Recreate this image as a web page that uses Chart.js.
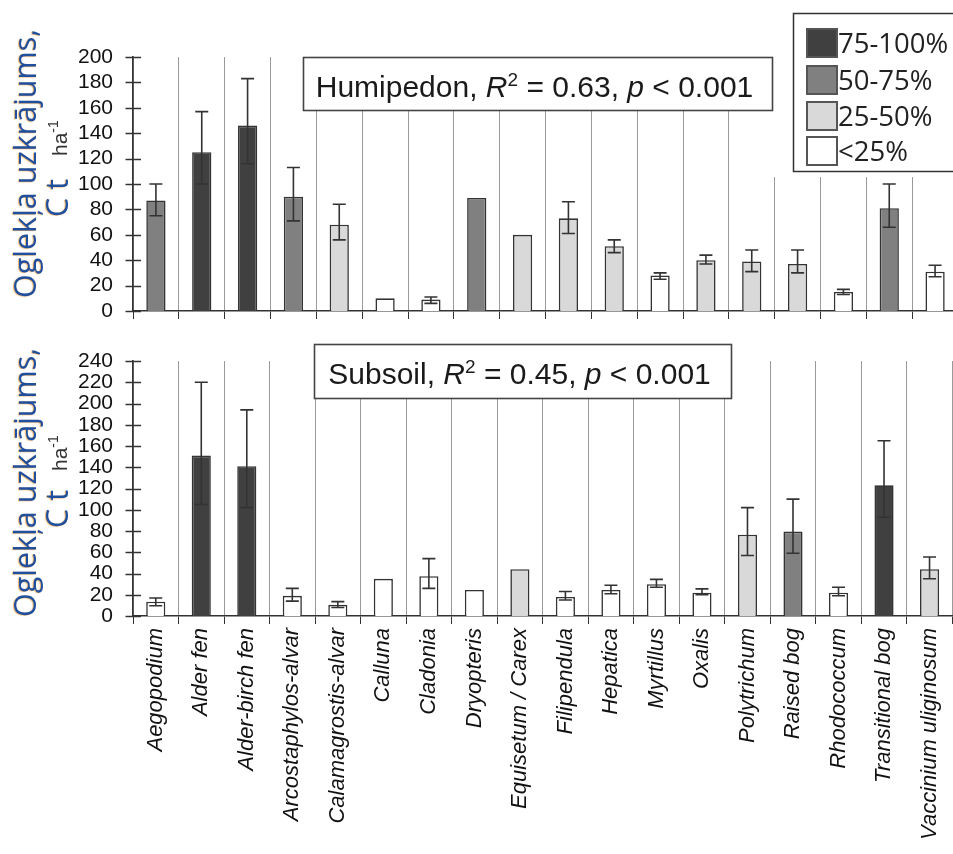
<!DOCTYPE html>
<html>
<head>
<meta charset="utf-8">
<script src="https://cdn.jsdelivr.net/npm/chart.js@4.4.1/dist/chart.umd.min.js"></script>
<style>
  html, body { margin: 0; padding: 0; background: #fff; }
  #wrap { position: relative; width: 953px; height: 854px; overflow: hidden; background: #fff; }
  #top { position: absolute; left: 0; top: 0; }
  #bottom { position: absolute; left: 0; top: 330px; }
</style>
</head>
<body>
<div id="wrap">
  <canvas id="top" width="960" height="330"></canvas>
  <canvas id="bottom" width="960" height="524"></canvas>
</div>
<script>
// Vegetation / forest site types
const categories = [
  'Aegopodium', 'Alder fen', 'Alder-birch fen', 'Arcostaphylos-alvar',
  'Calamagrostis-alvar', 'Calluna', 'Cladonia', 'Dryopteris',
  'Equisetum / Carex', 'Filipendula', 'Hepatica', 'Myrtillus', 'Oxalis',
  'Polytrichum', 'Raised bog', 'Rhodococcum', 'Transitional bog',
  'Vaccinium uliginosum'
];

// Humipedon carbon stock, C t/ha: mean and error-bar limits (null = no bar)
const humipedonMean = [87, 125, 146, 90, 68, 10, 9, 89, 60, 73, 51, 28, 40, 39, 37, 15, 81, 31];
const humipedonLow  = [75, 100, 116, 71, 56, null, 6, null, null, 61, 46, 25, 37, 31, 30, 13, 66, 27];
const humipedonHigh = [100, 157, 183, 113, 84, null, 11, null, null, 86, 56, 30, 44, 48, 48, 17, 100, 36];
// share class of each bar: 0 = <25%, 1 = 25-50%, 2 = 50-75%, 3 = 75-100%
const humipedonClass = [2, 3, 3, 2, 1, 0, 0, 2, 1, 1, 1, 0, 1, 1, 1, 0, 2, 0];

// Subsoil carbon stock, C t/ha
const subsoilMean = [13.5, 151, 141, 19, 10.5, 35, 37.5, 24.5, 44, 18, 24.5, 30, 22, 76.5, 79.5, 22, 123, 44];
const subsoilLow  = [9.7, 105, 102, 14, 8, null, 26, null, null, 15, 21, 27, 20, 57, 59, 19, 93, 35];
const subsoilHigh = [17, 220, 194, 26, 13.5, null, 54, null, null, 23, 29, 34.5, 25.5, 102, 110, 27, 165, 55.5];
const subsoilClass = [0, 3, 3, 0, 0, 0, 0, 0, 1, 0, 0, 0, 0, 1, 2, 0, 3, 1];

const classLabels = ['<25%', '25-50%', '50-75%', '75-100%'];
const yMaxHumipedon = 200;
const yMaxSubsoil = 240;
const yStep = 20;

const panelNames = ['Humipedon', 'Subsoil'];
const panelR2 = ['0.63', '0.45'];
const panelP = '0.001';
const yTitleMain = 'Oglekļa uzkrājums,';
const yTitleUnitA = 'C t';
const yTitleUnitB = 'ha';
const yTitleUnitExp = '-1';

// ---- styling ----
const classFills = ['#ffffff', '#d9d9d9', '#808080', '#404040'];
const ink = '#333333';
const sansFont = '"Liberation Sans", Arial, Helvetica, sans-serif';
const titleFont = '"Open Sans", "Noto Sans", sans-serif';

function richSegments(name, r2) {
  return [
    { t: name + ', ' },
    { t: 'R', italic: true },
    { t: '2', sup: true },
    { t: ' = ' + r2 + ', ' },
    { t: 'p', italic: true },
    { t: ' < ' + panelP }
  ];
}

function drawRich(ctx, segs, cx, baseline, size) {
  const fontFor = s => (s.italic ? 'italic ' : '') + (s.sup ? Math.round(size * 0.64) : size) + 'px ' + sansFont;
  let total = 0;
  segs.forEach(s => { ctx.font = fontFor(s); s.w = ctx.measureText(s.t).width; total += s.w; });
  let x = cx - total / 2;
  ctx.textAlign = 'left';
  ctx.textBaseline = 'alphabetic';
  segs.forEach(s => {
    ctx.font = fontFor(s);
    ctx.fillText(s.t, x, baseline - (s.sup ? size * 0.36 : 0));
    x += s.w;
  });
}

function errorBarPlugin(low, high) {
  return {
    id: 'errorBars',
    afterDatasetsDraw(chart) {
      const meta = chart.getDatasetMeta(0);
      const ys = chart.scales.y;
      const ctx = chart.ctx;
      ctx.save();
      ctx.strokeStyle = ink;
      ctx.lineWidth = 1.6;
      low.forEach((lo, i) => {
        const hi = high[i];
        if (lo == null || hi == null) return;
        const x = meta.data[i].x;
        const y1 = ys.getPixelForValue(lo);
        const y2 = ys.getPixelForValue(hi);
        ctx.beginPath();
        ctx.moveTo(x, y1); ctx.lineTo(x, y2);
        ctx.moveTo(x - 6.5, y1); ctx.lineTo(x + 6.5, y1);
        ctx.moveTo(x - 6.5, y2); ctx.lineTo(x + 6.5, y2);
        ctx.stroke();
      });
      ctx.restore();
    }
  };
}

// tick marks crossing the value axis on both sides
const yTickMarks = {
  id: 'yTickMarks',
  afterDraw(chart) {
    const ys = chart.scales.y;
    const ctx = chart.ctx;
    const x0 = chart.chartArea.left;
    ctx.save();
    ctx.strokeStyle = ink;
    ctx.lineWidth = 1.5;
    ys.ticks.forEach(t => {
      const y = Math.round(ys.getPixelForValue(t.value)) + 0.5;
      ctx.beginPath();
      ctx.moveTo(x0 - 7.5, y);
      ctx.lineTo(x0 + 8, y);
      ctx.stroke();
    });
    ctx.restore();
  }
};

function overlayPlugin(cfg) {
  return {
    id: 'overlay',
    afterDraw(chart) {
      const ctx = chart.ctx;
      const bottom = chart.chartArea.bottom;
      ctx.save();

      // white area behind the legend
      if (cfg.legend) {
        ctx.fillStyle = '#fff';
        ctx.fillRect(773, 0, 200, 177);
      }

      // statistics box
      const b = cfg.box;
      ctx.fillStyle = '#fff';
      ctx.fillRect(b.x, b.y, b.w, b.h);
      ctx.strokeStyle = '#444';
      ctx.lineWidth = 1.6;
      ctx.strokeRect(b.x + 0.5, b.y + 0.5, b.w, b.h);
      ctx.fillStyle = '#1a1a1a';
      drawRich(ctx, richSegments(cfg.name, cfg.r2), b.x + b.w / 2 - 3, b.y + 40, 30);

      // legend
      if (cfg.legend) {
        ctx.fillStyle = '#fff';
        ctx.fillRect(793, 13, 200, 158);
        ctx.strokeStyle = '#333';
        ctx.lineWidth = 1.5;
        ctx.strokeRect(793.5, 13.5, 200, 158);
        const rows = [29, 66, 102, 137];
        const order = [3, 2, 1, 0];
        order.forEach((c, k) => {
          const y = rows[k];
          ctx.fillStyle = classFills[c];
          ctx.fillRect(807, y, 30, 28);
          ctx.strokeStyle = '#555';
          ctx.lineWidth = 2;
          ctx.strokeRect(807, y, 30, 28);
          ctx.fillStyle = '#222';
          ctx.font = '27.5px ' + titleFont;
          ctx.textAlign = 'left';
          ctx.textBaseline = 'alphabetic';
          ctx.fillText(classLabels[c], 838, y + 23.5);
        });
      }

      // value-axis title
      const t = cfg.title;
      const blueText = (txt, x, y, size) => {
        ctx.save();
        ctx.translate(x, y);
        ctx.rotate(-Math.PI / 2);
        ctx.textAlign = 'left';
        ctx.textBaseline = 'alphabetic';
        ctx.shadowColor = 'rgba(235,150,50,0.75)';
        ctx.shadowOffsetX = -1.5;
        ctx.shadowOffsetY = 0.5;
        ctx.shadowBlur = 1;
        ctx.fillStyle = '#1f4f9f';
        ctx.font = size + 'px ' + titleFont;
        ctx.fillText(txt, 0, 0);
        ctx.restore();
      };
      blueText(yTitleMain, 36, bottom + t.main, 30.5);
      blueText(yTitleUnitA, 68, bottom + t.unitA, 30.5);

      ctx.save();
      ctx.translate(67, bottom + t.unitB);
      ctx.rotate(-Math.PI / 2);
      ctx.textAlign = 'left';
      ctx.textBaseline = 'alphabetic';
      ctx.fillStyle = '#333';
      ctx.font = '21px ' + sansFont;
      ctx.fillText(yTitleUnitB, 0, 0);
      const w = ctx.measureText(yTitleUnitB).width;
      ctx.font = '14px ' + sansFont;
      ctx.fillText(yTitleUnitExp, w, -9);
      ctx.restore();

      ctx.restore();
    }
  };
}

function buildPanel(canvasId, cfg) {
  return new Chart(document.getElementById(canvasId), {
    type: 'bar',
    data: {
      labels: categories,
      datasets: [{
        data: cfg.mean,
        backgroundColor: cfg.cls.map(c => classFills[c]),
        borderColor: ink,
        borderWidth: 1.6,
        barPercentage: 0.42,
        categoryPercentage: 1
      }]
    },
    options: {
      responsive: false,
      animation: false,
      layout: { padding: { top: cfg.padTop, right: 2, bottom: 0, left: 0 }, autoPadding: false },
      plugins: { legend: { display: false }, tooltip: { enabled: false } },
      scales: {
        x: {
          grid: { offset: true, color: '#9a9a9a', lineWidth: 1, tickColor: ink, tickLength: 8, drawTicks: true },
          border: { color: ink, width: 1.6 },
          ticks: {
            display: cfg.showLabels,
            autoSkip: false,
            maxRotation: 90,
            minRotation: 90,
            padding: 4,
            color: '#111',
            font: { family: sansFont, size: 22, style: 'italic' }
          },
          afterFit: s => { s.height = cfg.xHeight; }
        },
        y: {
          min: 0,
          max: cfg.yMax,
          ticks: {
            stepSize: yStep,
            autoSkip: false,
            padding: 0,
            color: '#111',
            font: { family: sansFont, size: 21 }
          },
          // hidden tick marks only reserve the gap between labels and axis
          grid: { display: false, drawTicks: true, tickLength: 20 },
          border: { color: ink, width: 1.6 },
          afterFit: s => { s.width = 133; }
        }
      }
    },
    plugins: [errorBarPlugin(cfg.low, cfg.high), yTickMarks, overlayPlugin(cfg)]
  });
}

buildPanel('top', {
  mean: humipedonMean, low: humipedonLow, high: humipedonHigh, cls: humipedonClass,
  yMax: yMaxHumipedon, padTop: 57, xHeight: 19, showLabels: false,
  name: panelNames[0], r2: panelR2[0],
  box: { x: 303, y: 57, w: 469, h: 53 },
  legend: true,
  title: { main: -13, unitA: -94, unitB: -155 }
});

buildPanel('bottom', {
  mean: subsoilMean, low: subsoilLow, high: subsoilHigh, cls: subsoilClass,
  yMax: yMaxSubsoil, padTop: 31, xHeight: 238, showLabels: true,
  name: panelNames[1], r2: panelR2[1],
  box: { x: 314, y: 14, w: 417, h: 54 },
  legend: false,
  title: { main: 1, unitA: -88, unitB: -145 }
});
</script>
</body>
</html>
